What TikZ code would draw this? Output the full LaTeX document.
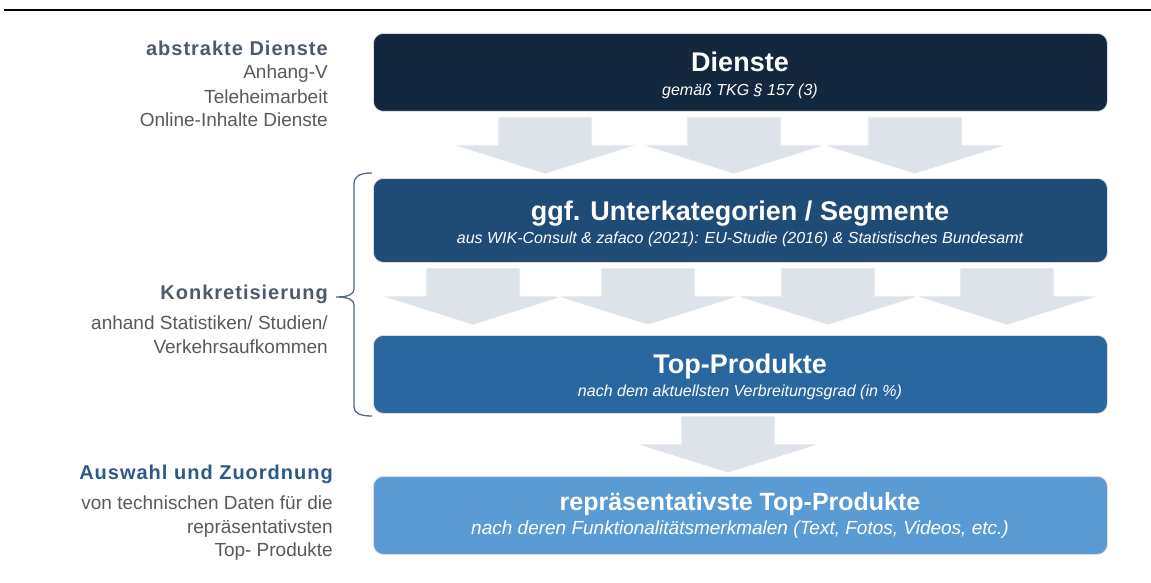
\documentclass[tikz,border=0pt]{standalone}
\usepackage{fontspec}
\setmainfont{Liberation Sans}
\newfontfamily\spacedfont[LetterSpace=5]{Liberation Sans}
\usetikzlibrary{positioning}

\definecolor{navy}{RGB}{19,39,63}
\definecolor{midblue}{RGB}{31,76,119}
\definecolor{topblue}{RGB}{42,103,160}
\definecolor{lightblue}{RGB}{91,155,213}
\definecolor{arrowgray}{RGB}{222,226,233}
\definecolor{headgray}{RGB}{78,90,108}
\definecolor{headblue}{RGB}{44,89,135}
\definecolor{textgray}{RGB}{89,89,89}
\definecolor{bracegray}{RGB}{84,104,130}

\begin{document}
\begin{tikzpicture}[x=1pt, y=-1pt,
  box/.style={fill=#1, draw=gray!25, line width=0.8pt, rounded corners=10pt,
    minimum width=734pt, minimum height=78pt, inner sep=0pt, anchor=north west},
  boxtitle/.style={text=white, font=\fontsize{27}{30}\selectfont\bfseries, inner sep=0pt, anchor=base},
  boxsub/.style={text=white, font=\fontsize{16}{19}\selectfont\itshape, inner sep=0pt, anchor=base},
  lefthead/.style={text=#1, font=\fontsize{20}{23}\spacedfont\bfseries, inner sep=0pt, anchor=base east},
  lefttext/.style={text=textgray, font=\fontsize{19}{23.5}\selectfont, inner sep=0pt, anchor=base east},
  downarrow/.pic={
    \fill[arrowgray, draw=white, line width=0.7pt]
      (-47,0) -- (47,0) -- (47,28) -- (92,28) -- (0,57) -- (-92,28) -- (-47,28) -- cycle;
  }
]
  \useasboundingbox (0,0) rectangle (1151,583);

  % Rule on top
  \draw[line width=2.5pt] (4,10) -- (1151,10);

  % Arrows between the boxes
  \foreach \ax in {545,734,915}
    \pic at (\ax,117) {downarrow};
  \foreach \ax in {473,648,828,1007}
    \pic at (\ax,268) {downarrow};
  \pic at (728,416) {downarrow};

  % Boxes
  \node[box=navy] (dienste) at (373,33) {};
  \node[box=midblue, minimum height=84pt] (segmente) at (373,178) {};
  \node[box=topblue] (produkte) at (373,335) {};
  \node[box=lightblue] (auswahl) at (373,476) {};

  % Box texts
  \node[boxtitle] (dienste-t) at (740,72) {Dienste};
  \node[boxsub] (dienste-s) at (740,96) {gemäß TKG § 157 (3)};
  \node[boxtitle] (segmente-t) at (740,220) {ggf. Unterkategorien / Segmente};
  \node[boxsub] (segmente-s) at (740,243) {aus WIK-Consult \& zafaco (2021): EU-Studie (2016) \& Statistisches Bundesamt};
  \node[boxtitle] (produkte-t) at (740,373) {Top-Produkte};
  \node[boxsub] (produkte-s) at (740,396) {nach dem aktuellsten Verbreitungsgrad (in \%)};
  \node[boxtitle, font=\fontsize{25}{28}\selectfont\bfseries] (auswahl-t) at (740,510) {repräsentativste Top-Produkte};
  \node[boxsub, font=\fontsize{19}{22}\selectfont\itshape] (auswahl-s) at (740,534) {nach deren Funktionalitätsmerkmalen (Text, Fotos, Videos, etc.)};

  % Left column
  \node[lefthead=headgray] (abstrakt) at (328,56) {abstrakte Dienste};
  \node[lefttext] (anhang) at (328,79) {Anhang-V};
  \node[lefttext] (tele) at (328,104) {Teleheimarbeit};
  \node[lefttext] (online) at (328,127) {Online-Inhalte Dienste};

  \node[lefthead=headgray] (konkret) at (328,299) {Konkretisierung};
  \node[lefttext] (anhand) at (328,329) {anhand Statistiken/ Studien/};
  \node[lefttext] (verkehr) at (328,353) {Verkehrsaufkommen};

  \node[lefthead=headblue] (zuordnung) at (333,479) {Auswahl und Zuordnung};
  \node[lefttext] (technisch) at (333,509) {von technischen Daten für die};
  \node[lefttext] (repr) at (333,533) {repräsentativsten};
  \node[lefttext] (topp) at (333,556) {Top- Produkte};

  % Brace
  \draw[bracegray, line width=1.3pt]
    (372,173) .. controls (360,173) and (354,176) .. (354,184) -- (354,289)
    .. controls (354,294) and (349,297) .. (336,297)
    .. controls (349,297) and (354,300) .. (354,305) -- (354,407)
    .. controls (354,413) and (360,416) .. (372,416);
\end{tikzpicture}
\end{document}
